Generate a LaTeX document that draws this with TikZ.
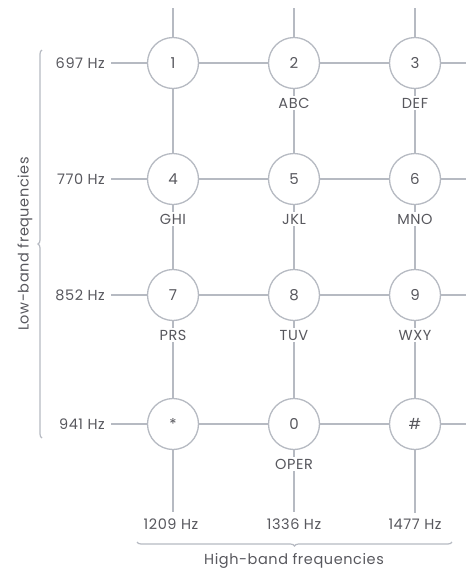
\documentclass[tikz,border=0pt]{standalone}
\usepackage{fontspec}
\setmainfont{Poppins}[LetterSpace=4]
\definecolor{gridgray}{RGB}{182, 186, 194}
\definecolor{labelgray}{RGB}{88, 88, 94}
\usepackage{tikz}
\usetikzlibrary{decorations.pathreplacing}

\begin{document}
\begin{tikzpicture}[x=1pt, y=-1pt,
                    key/.style={circle, draw=gridgray, line width=1.3pt, fill=white, minimum size=51pt,
                                inner sep=0pt, text=labelgray, font=\fontsize{15}{17}\selectfont},
                    letters/.style={fill=white, inner sep=2pt, text=labelgray, font=\fontsize{14.5}{17}\selectfont},
                    freq/.style={inner sep=6pt, text=labelgray, font=\fontsize{14.5}{17}\selectfont},
                    wire/.style={draw=gridgray, line width=1.3pt}]
                    \useasboundingbox (0, 0) rectangle (466, 571);
                    % keys
                    \node[key] (k1) at (173, 63) {1};
                    \node[key] (k2) at (294, 63) {2};
                    \node[key] (k3) at (415, 63) {3};
                    \node[key] (k4) at (173, 179) {4};
                    \node[key] (k5) at (294, 179) {5};
                    \node[key] (k6) at (415, 179) {6};
                    \node[key] (k7) at (173, 295) {7};
                    \node[key] (k8) at (294, 295) {8};
                    \node[key] (k9) at (415, 295) {9};
                    \node[key] (kstar) at (173, 424) {\raisebox{-0.4ex}{*}};
                    \node[key] (k0) at (294, 424) {0};
                    \node[key] (khash) at (415, 424) {\#};
                    % letters
                    \node[letters] (abc) at (294, 103) {ABC};
                    \node[letters] (def) at (415, 103) {DEF};
                    \node[letters] (ghi) at (173, 219) {GHI};
                    \node[letters] (jkl) at (294, 219) {JKL};
                    \node[letters] (mno) at (415, 219) {MNO};
                    \node[letters] (prs) at (173, 335) {PRS};
                    \node[letters] (tuv) at (294, 335) {TUV};
                    \node[letters] (wxy) at (415, 335) {WXY};
                    \node[letters] (oper) at (294, 464) {OPER};
                    % low-band frequencies
                    \node[freq, anchor=east] (f697) at (111, 63) {697 Hz};
                    \node[freq, anchor=east] (f770) at (111, 179) {770 Hz};
                    \node[freq, anchor=east] (f852) at (111, 295) {852 Hz};
                    \node[freq, anchor=east] (f941) at (111, 424) {941 Hz};
                    % high-band frequencies
                    \node[freq] (f1209) at (171, 524) {1209 Hz};
                    \node[freq] (f1336) at (294, 524) {1336 Hz};
                    \node[freq] (f1477) at (415, 524) {1477 Hz};
                    % free ends
                    \coordinate (top1) at (173, 8);
                    \coordinate (top2) at (294, 8);
                    \coordinate (top3) at (415, 8);
                    \coordinate (end1) at (466, 63);
                    \coordinate (end2) at (466, 179);
                    \coordinate (end3) at (466, 295);
                    \coordinate (end4) at (466, 424);
                    % rows
                    \draw[wire] (f697) -- (k1) -- (k2) -- (k3) -- (end1);
                    \draw[wire] (f770) -- (k4) -- (k5) -- (k6) -- (end2);
                    \draw[wire] (f852) -- (k7) -- (k8) -- (k9) -- (end3);
                    \draw[wire] (f941) -- (kstar) -- (k0) -- (khash) -- (end4);
                    % columns
                    \draw[wire] (top1) -- (k1) -- (k4) -- (ghi) -- (k7) -- (prs) -- (kstar) -- (kstar |- f1209.north);
                    \draw[wire] (top2) -- (k2) -- (abc) -- (k5) -- (jkl) -- (k8) -- (tuv) -- (k0) -- (oper) -- (f1336);
                    \draw[wire] (top3) -- (k3) -- (def) -- (k6) -- (mno) -- (k9) -- (wxy) -- (khash) -- (f1477);
                    % braces
                    \coordinate (lowbot) at (42, 438);
                    \coordinate (lowtop) at (42, 50);
                    \coordinate (highright) at (452, 542);
                    \coordinate (highleft) at (137, 542);
                    \draw[gridgray, line width=1.2pt, decorate, decoration={brace, amplitude=4pt}] (lowbot) -- (lowtop);
                    \draw[gridgray, line width=1.2pt, decorate, decoration={brace, amplitude=4pt}] (highright) -- (highleft);
                    \node[freq, rotate=90] (lowband) at (25, 244) {Low-band frequencies};
                    \node[freq] (highband) at (294, 561) {High-band frequencies};
                \end{tikzpicture}
\end{document}
